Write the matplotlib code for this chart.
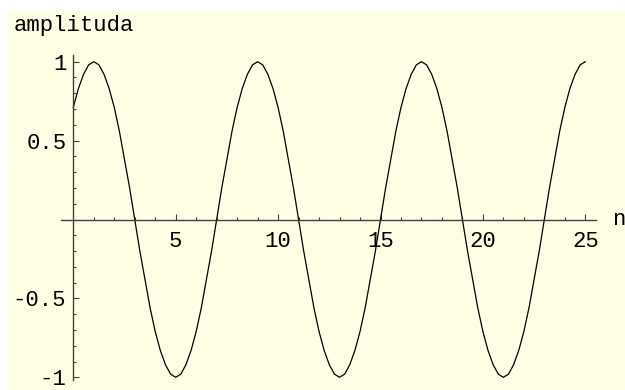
import numpy as np
import matplotlib
matplotlib.use("Agg")
import matplotlib.pyplot as plt
from matplotlib.patches import Rectangle
from matplotlib.ticker import FixedLocator, FixedFormatter

# sample positions (step 0.25) and the amplitude at each one
n = np.arange(0, 25.25, 0.25)
amplitude = [
    0.71, 0.83, 0.92, 0.98, 1.00, 0.98, 0.92, 0.83,
    0.71, 0.56, 0.38, 0.20, 0.00, -0.20, -0.38, -0.56,
    -0.71, -0.83, -0.92, -0.98, -1.00, -0.98, -0.92, -0.83,
    -0.71, -0.56, -0.38, -0.20, 0.00, 0.20, 0.38, 0.56,
    0.71, 0.83, 0.92, 0.98, 1.00, 0.98, 0.92, 0.83,
    0.71, 0.56, 0.38, 0.20, 0.00, -0.20, -0.38, -0.56,
    -0.71, -0.83, -0.92, -0.98, -1.00, -0.98, -0.92, -0.83,
    -0.71, -0.56, -0.38, -0.20, 0.00, 0.20, 0.38, 0.56,
    0.71, 0.83, 0.92, 0.98, 1.00, 0.98, 0.92, 0.83,
    0.71, 0.56, 0.38, 0.20, 0.00, -0.20, -0.38, -0.56,
    -0.71, -0.83, -0.92, -0.98, -1.00, -0.98, -0.92, -0.83,
    -0.71, -0.56, -0.38, -0.20, 0.00, 0.20, 0.38, 0.56,
    0.71, 0.83, 0.92, 0.98, 1.00,
]

x_ticks = [5, 10, 15, 20, 25]
x_labels = ["5", "10", "15", "20", "25"]
y_ticks = [-1, -0.5, 0.5, 1]
y_labels = ["-1", "-0.5", "0.5", "1"]

FONT = "Liberation Mono"
FS = 16
AXIS_COLOR = "#404040"

W, H = 625, 390
fig = plt.figure(figsize=(W / 100, H / 100), dpi=100)
fig.patch.set_facecolor("white")
fig.patches.append(Rectangle((8 / W, 0), 1 - 8 / W, 1 - 10 / H,
                             transform=fig.transFigure, facecolor="#ffffe6",
                             edgecolor="none", zorder=-10))

ax = fig.add_axes([0, 0, 1, 1])
ax.patch.set_alpha(0)

# pixel mapping: x=0 at 73.3 px, 20.48 px per unit; y=0 at 219.5 px, 157.8 px per unit
x0, sx = 73.3, 20.48
y0, sy = 219.5, 157.8
ax.set_xlim(-x0 / sx, (W - x0) / sx)
ax.set_ylim(-(H - y0) / sy, y0 / sy)

ax.plot(n, amplitude, color="black", lw=0.9)

for side in ("top", "right"):
    ax.spines[side].set_visible(False)
ax.spines["left"].set_position(("data", 0))
ax.spines["bottom"].set_position(("data", 0))
ax.spines["left"].set_bounds(-1.02, 1.04)
ax.spines["bottom"].set_bounds(-0.6, 25.5)
for side in ("left", "bottom"):
    ax.spines[side].set_color(AXIS_COLOR)
    ax.spines[side].set_linewidth(1.0)

ax.xaxis.set_major_locator(FixedLocator(x_ticks))
ax.xaxis.set_major_formatter(FixedFormatter(x_labels))
ax.xaxis.set_minor_locator(FixedLocator([v for v in range(1, 26) if v % 5]))
ax.yaxis.set_major_locator(FixedLocator(y_ticks))
ax.yaxis.set_major_formatter(FixedFormatter(y_labels))
ax.yaxis.set_minor_locator(FixedLocator(
    [round(v / 10, 1) for v in range(-9, 10) if v % 5]))

ax.tick_params(axis="both", which="both", direction="in", color=AXIS_COLOR,
               width=0.8, labelsize=FS, labelcolor="black")
ax.tick_params(axis="both", which="major", length=4.5)
ax.tick_params(axis="both", which="minor", length=2.2)
ax.tick_params(axis="x", which="major", pad=8)
ax.tick_params(axis="y", which="major", pad=5)
for lab in ax.get_xticklabels() + ax.get_yticklabels():
    lab.set_family(FONT)

ax.text(26.3, 0, "n", family=FONT, fontsize=FS, ha="left", va="center")
fig.text(14 / W, 1 - 31 / H, "amplituda", family=FONT, fontsize=FS,
         ha="left", va="baseline")

fig.savefig("out.png", dpi=100)
